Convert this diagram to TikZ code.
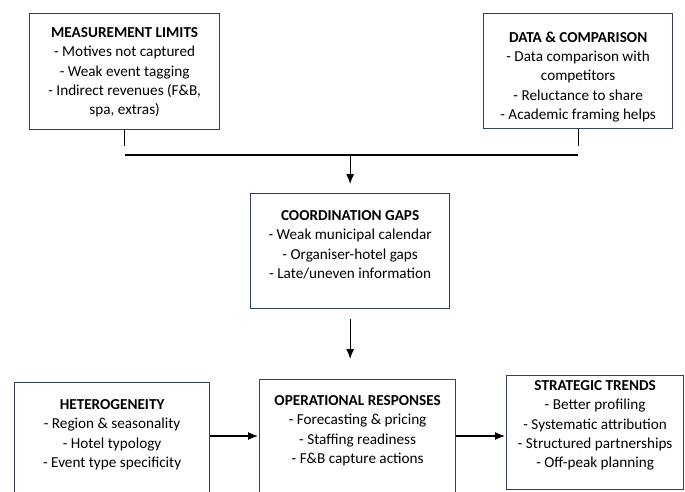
\documentclass[tikz,border=0pt]{standalone}
\usepackage{fontspec}
\setmainfont{Carlito}
\usepackage{tikz}
\usetikzlibrary{arrows.meta,positioning}

\newcommand{\cardbody}[4]{\parbox[c][#2][t]{#1}{\centering\vspace*{#3}#4}}

\begin{document}
\begin{tikzpicture}[x=1pt,y=-1pt,
    card/.style={draw=cardline,line width=1.3pt,fill=white,inner sep=0pt,
      anchor=north west,font=\fontsize{15.2}{19.3}\selectfont},
    link/.style={line width=1.1pt},
    flow/.style={link,-{Latex[length=10pt,width=8pt]}}]
  \definecolor{cardline}{RGB}{52,64,98}
  \clip (0,0) rectangle (685,491);
  \node[card] (limits) at (29,13) {\cardbody{190pt}{116pt}{14pt}{%
    \textbf{MEASUREMENT LIMITS}\\- Motives not captured\\- Weak event tagging\\
    - Indirect revenues (F\&B,\\spa, extras)}};
  \node[card] (datacmp) at (483,13) {\cardbody{189pt}{115pt}{18pt}{%
    \textbf{DATA \& COMPARISON}\\- Data comparison with\\competitors\\
    - Reluctance to share\\- Academic framing helps}};
  \node[card] (gaps) at (250,193) {\cardbody{199pt}{115pt}{17pt}{%
    \textbf{COORDINATION GAPS}\\- Weak municipal calendar\\- Organiser-hotel gaps\\
    - Late/uneven information}};
  \node[card] (hetero) at (14,382) {\cardbody{195pt}{130pt}{17pt}{%
    \textbf{HETEROGENEITY}\\- Region \& seasonality\\- Hotel typology\\
    - Event type specificity}};
  \node[card] (responses) at (259,379) {\cardbody{196pt}{130pt}{16pt}{%
    \textbf{OPERATIONAL RESPONSES}\\- Forecasting \& pricing\\- Staffing readiness\\
    - F\&B capture actions}};
  \node[card] (trends) at (506,375) {\cardbody{177pt}{114pt}{5pt}{%
    \textbf{STRATEGIC TRENDS}\\- Better profiling\\- Systematic attribution\\
    - Structured partnerships\\- Off-peak planning}};
  \coordinate[below=16pt of limits.south] (limitsfoot);
  \coordinate[below=17pt of datacmp.south] (datafoot);
  \draw[link] (limits.south) -- (limitsfoot);
  \draw[link] (datacmp.south) -- (datafoot);
  \coordinate (busw) at (limits.south |- 0,155);
  \coordinate (buse) at (datacmp.south |- 0,155);
  \draw[link] (busw) -- (buse);
  \draw[flow,shorten >=9pt] (gaps.north |- busw) -- (gaps.north);
  \draw[flow,shorten <=10pt,shorten >=20pt] (gaps.south) -- (gaps.south |- responses.north);
  \coordinate (rowline) at (0,436);
  \draw[flow,shorten >=1pt] (hetero.east |- rowline) -- (responses.west |- rowline);
  \draw[flow,shorten >=1pt] (responses.east |- rowline) -- (trends.west |- rowline);
\end{tikzpicture}
\end{document}
